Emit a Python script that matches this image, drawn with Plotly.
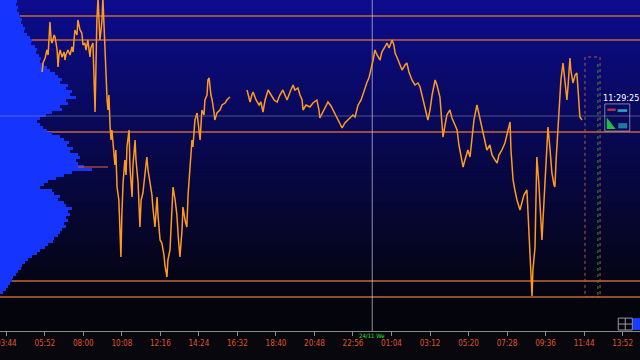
import pandas as pd
import plotly.graph_objects as go

# ---------------- data ----------------
BASE_DAY = "2021-11-23"

# price series, minutes since 23/11 00:00 and price (arbitrary points)
seg1_min = [343,346,353,359,363,369,373,376,383,386,
            393,396,399,403,409,416,419,422,429,436,
            442,446,452,459,462,469,475,479,485,489,
            495,502,505,512,519,522,525,529,535,539,
            542,545,549,555,559,562,565,569,572,575,
            582,585,588,592,598,605,608,612,618,622,
            625,632,635,642,645,652,655,662,668,672,
            678,685,691,695,701,708,711,718,725,728,
            735,741,748,751,758,761,768,775,778,785,
            791,795,801,808,811,818,824,828,834,841,
            844,851,858,864,868,874,881,884,891,894,
            898,904,908,914,917,924,934,941,951,957,967]
seg1_price = [259,268,273,281,276,309,291,288,296,294,
              281,264,276,281,274,279,271,276,281,276,
              284,279,301,296,311,301,298,286,288,281,
              291,274,283,288,219,271,311,333,291,301,
              311,333,298,251,231,221,236,204,191,201,
              171,166,181,144,131,74,116,148,171,156,
              184,201,164,134,166,191,171,148,104,131,
              138,156,174,161,148,136,124,104,134,116,
              91,88,76,66,54,71,81,121,144,131,
              116,96,74,101,124,111,104,136,161,191,
              184,211,218,201,191,221,216,231,236,251,
              253,236,231,219,211,218,221,226,228,231,234]

seg2_min = [1024,1030,1034,1040,1044,1054,1064,1070,1077,1084,
            1094,1104,1114,1124,1133,1143,1150,1157,1167,1177,
            1183,1193,1200,1207,1210,1220,1233,1243,1256,1263,
            1266,1276,1286,1293,1303,1310,1320,1330,1340,1349,
            1359,1369,1376,1383,1393,1403,1413,1423,1429,1439,
            1443,1449,1456,1466,1472,1482,1489,1496,1506,1512,
            1516,1526,1532,1539,1549,1555,1562,1572,1582,1592,
            1599,1605,1615,1625,1632,1639,1649,1655,1665,1672,
            1675,1682,1688,1698,1705,1715,1722,1728,1735,1742,
            1748,1758,1765,1771,1778,1788,1795,1805,1811,1821,
            1831,1838,1848,1855,1861,1871,1881,1888,1898,1901,
            1908,1914,1921,1931,1938,1944,1954,1958,1964,1968,
            1971,1974,1981,1984,1987,1994,2001,2004,2011,2017,
            2021,2024,2031,2037,2044,2047,2051,2057,2064,2067,
            2074,2081,2087,2091,2097,2100,2107,2114,2120,2124,
            2130,2137]
seg2_price = [241,233,229,236,239,231,226,229,219,231,
              241,236,231,229,236,241,236,231,239,246,
              241,243,236,231,221,226,224,228,231,221,
              213,219,226,229,225,221,214,209,203,208,
              211,213,216,214,226,231,241,249,253,264,
              271,281,276,271,279,284,288,283,291,286,
              278,271,266,261,266,268,259,251,246,248,
              244,236,226,211,221,236,251,246,234,211,
              194,206,216,221,213,206,201,186,176,164,
              171,181,174,191,211,226,216,204,196,181,
              186,176,171,168,176,181,188,196,209,181,
              151,141,131,121,131,136,141,116,91,66,
              35,61,84,131,174,146,111,91,131,171,
              191,204,181,158,146,144,171,204,231,251,
              268,251,231,246,273,261,248,256,258,241,
              214,211]

# volume profile (price level bins of 3, top bin centre 329.5)
profile_top = 329.5
profile_step = 3
profile_volume = [17,16,18,17,19,20,22,21,23,25,
                  24,27,30,32,31,35,37,36,39,41,
                  40,44,47,50,55,58,62,60,68,66,
                  72,70,76,66,68,60,62,52,46,40,
                  37,40,43,47,52,60,64,69,67,73,
                  70,78,80,76,78,84,92,72,64,56,
                  48,44,40,52,54,60,58,64,66,72,
                  68,70,66,68,64,66,62,60,58,54,
                  53,48,45,40,37,32,28,25,22,21,
                  18,16,13,12,10,8,6,3]

# reference price levels
orange_levels = [315, 291, 199, 50, 34]
grey_level = 215
poc_level = 164
poc_span = ["2021-11-23 07:42", "2021-11-23 09:22"]

# axis
x_range = ["2021-11-23 03:23:06", "2021-11-24 14:49:48"]
tick_times = ["2021-11-23 03:44", "2021-11-23 05:52", "2021-11-23 08:00",
              "2021-11-23 10:08", "2021-11-23 12:16", "2021-11-23 14:24",
              "2021-11-23 16:32", "2021-11-23 18:40", "2021-11-23 20:48",
              "2021-11-23 22:56", "2021-11-24 01:04", "2021-11-24 03:12",
              "2021-11-24 05:20", "2021-11-24 07:28", "2021-11-24 09:36",
              "2021-11-24 11:44", "2021-11-24 13:52"]
tick_labels = [t[-5:] for t in tick_times]
day_break = "2021-11-24 00:00"
day_label = "24/11 We"
clock_label = "11:29:25"
bar_box_time = ["2021-11-24 11:47", "2021-11-24 12:37"]
bar_box_price = [34, 274]
bar_ticks_time = "2021-11-24 12:30"

# ---------------- build ----------------
base = pd.Timestamp(BASE_DAY)
x_price = ([base + pd.Timedelta(minutes=m) for m in seg1_min] + [None] +
           [base + pd.Timedelta(minutes=m) for m in seg2_min])
y_price = seg1_price + [None] + seg2_price
profile_price = [profile_top - profile_step * i for i in range(len(profile_volume))]

fig = go.Figure()
fig.add_trace(go.Bar(
    y=profile_price, x=profile_volume, orientation="h", xaxis="x", yaxis="y",
    width=profile_step, marker=dict(color="#1535ff", line=dict(width=0)),
    hoverinfo="skip"))
fig.add_trace(go.Scatter(
    x=x_price, y=y_price, xaxis="x2", yaxis="y", mode="lines",
    connectgaps=False, line=dict(color="#ff9a1e", width=1.5), hoverinfo="skip"))

shapes = []
# background gradient
n_bands = 90
for i in range(n_bands):
    ypx = 331 * (i + 0.5) / n_bands
    b = max(12, 142 - 0.43 * ypx)
    r = max(4, 12 - 0.027 * ypx)
    shapes.append(dict(type="rect", xref="paper", yref="paper", x0=0, x1=1,
                       y0=1 - (i + 1) / n_bands, y1=1 - i / n_bands + 0.002,
                       fillcolor=f"rgb({r:.0f},{r:.0f},{b:.0f})",
                       line=dict(width=0), layer="below"))
for lv in orange_levels:
    shapes.append(dict(type="line", xref="paper", yref="y", x0=0, x1=1, y0=lv, y1=lv,
                       line=dict(color="#c4653e", width=1.3), layer="below"))
shapes.append(dict(type="line", xref="x2", yref="y", x0=poc_span[0], x1=poc_span[1],
                   y0=poc_level, y1=poc_level, line=dict(color="#b8503a", width=1.3),
                   layer="above"))
shapes.append(dict(type="line", xref="paper", yref="y", x0=0, x1=1, y0=grey_level, y1=grey_level,
                   line=dict(color="rgba(140,140,175,0.55)", width=1), layer="above"))
shapes.append(dict(type="line", xref="x2", yref="paper", x0=day_break, x1=day_break, y0=0, y1=1,
                   line=dict(color="rgba(190,190,215,0.75)", width=1), layer="below"))
# current bar box
shapes.append(dict(type="rect", xref="x2", yref="y", x0=bar_box_time[0], x1=bar_box_time[1],
                   y0=bar_box_price[0], y1=bar_box_price[1],
                   line=dict(color="#b05a40", width=1, dash="dot"), layer="above"))
shapes.append(dict(type="line", xref="x2", yref="y", x0=bar_ticks_time, x1=bar_ticks_time,
                   y0=bar_box_price[0] + 2, y1=bar_box_price[1] - 4,
                   line=dict(color="#2a9a35", width=1, dash="dot"), layer="above"))
# info panel
shapes.append(dict(type="rect", xref="paper", yref="paper", x0=0.945, x1=0.984, y0=0.604, y1=0.686,
                   line=dict(color="rgba(200,200,220,0.6)", width=1), layer="above"))
shapes.append(dict(type="rect", xref="paper", yref="paper", x0=0.949, x1=0.962, y0=0.665, y1=0.672,
                   fillcolor="#c03040", line=dict(width=0), layer="above"))
shapes.append(dict(type="rect", xref="paper", yref="paper", x0=0.965, x1=0.980, y0=0.662, y1=0.670,
                   fillcolor="#30a0c0", line=dict(width=0), layer="above"))
shapes.append(dict(type="path", xref="paper", yref="paper",
                   path="M 0.948 0.61 L 0.948 0.645 L 0.962 0.61 Z",
                   fillcolor="#20c040", line=dict(width=0), layer="above"))
shapes.append(dict(type="rect", xref="paper", yref="paper", x0=0.966, x1=0.980, y0=0.612, y1=0.628,
                   fillcolor="rgba(40,170,190,0.7)", line=dict(width=0), layer="above"))
# bottom-right icons
shapes.append(dict(type="rect", xref="paper", yref="paper", x0=0.966, x1=0.988, y0=0.003, y1=0.039,
                   line=dict(color="#9a9aa8", width=1), layer="above"))
shapes.append(dict(type="line", xref="paper", yref="paper", x0=0.977, x1=0.977, y0=0.003, y1=0.039,
                   line=dict(color="#9a9aa8", width=1), layer="above"))
shapes.append(dict(type="line", xref="paper", yref="paper", x0=0.966, x1=0.988, y0=0.021, y1=0.021,
                   line=dict(color="#9a9aa8", width=1), layer="above"))
shapes.append(dict(type="rect", xref="paper", yref="paper", x0=0.989, x1=1.0, y0=0.003, y1=0.039,
                   fillcolor="#1a3cff", line=dict(width=0), layer="above"))

annotations = [
    dict(x=day_break, xref="x2", y=-0.014, yref="paper", text=day_label, showarrow=False,
         font=dict(family="DejaVu Sans Condensed, Liberation Sans Narrow, Roboto", size=6, color="#2ee02e"),
         xanchor="center", yanchor="middle"),
    dict(x=0.970, xref="paper", y=0.705, yref="paper", text=clock_label, showarrow=False,
         font=dict(family="DejaVu Sans Condensed, Liberation Sans Narrow, Roboto", size=9, color="#ffffff"),
         xanchor="center", yanchor="middle"),
]

tick_font = dict(family="DejaVu Sans Condensed, Liberation Sans Narrow, Roboto", size=8, color="#e0552a")
fig.update_layout(
    width=640, height=360, margin=dict(l=0, r=0, t=0, b=29),
    paper_bgcolor="#07070d", plot_bgcolor="#07070d", showlegend=False, bargap=0,
    xaxis=dict(range=[0, 640], visible=False, fixedrange=True),
    xaxis2=dict(type="date", overlaying="x", side="bottom", range=x_range,
                tickmode="array", tickvals=tick_times, ticktext=tick_labels,
                ticks="outside", ticklen=4, tickcolor="#8a8a8a", tickwidth=1,
                showline=True, linecolor="#8a8a8a", linewidth=1,
                showgrid=False, zeroline=False, tickfont=tick_font, automargin=False,
                ticklabeloverflow="allow", fixedrange=True),
    yaxis=dict(range=[0, 331], visible=False, fixedrange=True),
    shapes=shapes, annotations=annotations,
)
fig.write_html("out.html", config={"displayModeBar": False})
